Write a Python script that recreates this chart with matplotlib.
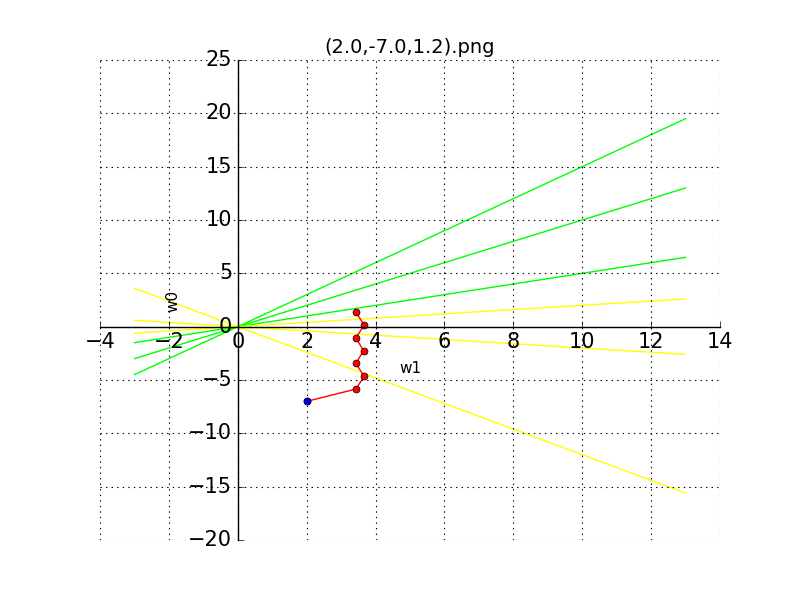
import numpy as np
import matplotlib
matplotlib.use('Agg')
import matplotlib.pyplot as plt

plt.style.use('classic')

# ── data ─────────────────────────────────────────────────────────────────────
x_span = [-3, 13]
green_slopes = [1.5, 1.0, 0.5]
yellow_slopes = [0.2, -0.2, -1.2]

path_w1 = [2.0, 3.43, 3.67, 3.43, 3.65, 3.43, 3.67, 3.43]
path_w0 = [-7.0, -5.85, -4.65, -3.45, -2.25, -1.05, 0.15, 1.35]

# ── figure ───────────────────────────────────────────────────────────────────
fig = plt.figure(figsize=(8, 6), dpi=100, facecolor='white')
ax = fig.add_axes([0.125, 0.1, 0.775, 0.8])

xs = np.array(x_span, dtype=float)
for s in green_slopes:
    ax.plot(xs, s * xs, color='#00ff00', lw=1)
for s in yellow_slopes:
    ax.plot(xs, s * xs, color='#ffff00', lw=1)

ax.plot(path_w1, path_w0, color='red', lw=1, marker='o', ms=5,
        mfc='red', mec='black')
ax.plot(path_w1[0], path_w0[0], 'o', ms=5, mfc='blue', mec='black')

ax.set_xlim(-4, 14)
ax.set_ylim(-20, 25)
ax.set_xticks(np.arange(-4, 15, 2))
ax.set_yticks(np.arange(-20, 26, 5))
ax.tick_params(labelsize=15)

ax.spines['left'].set_position('zero')
ax.spines['bottom'].set_position('zero')
ax.spines['top'].set_visible(False)
ax.spines['right'].set_visible(False)
ax.xaxis.set_ticks_position('bottom')
ax.yaxis.set_ticks_position('left')

ax.grid(True, color='black', linestyle=':', lw=0.8)

ax.text(-1.88, 2.4, 'w0', rotation=90, ha='center', va='center', fontsize=11)
ax.text(5.0, -3.9, 'w1', ha='center', va='center', fontsize=11)
ax.set_title('(2.0,-7.0,1.2).png', fontsize=14)

plt.savefig('out.png', dpi=100, facecolor='white')
